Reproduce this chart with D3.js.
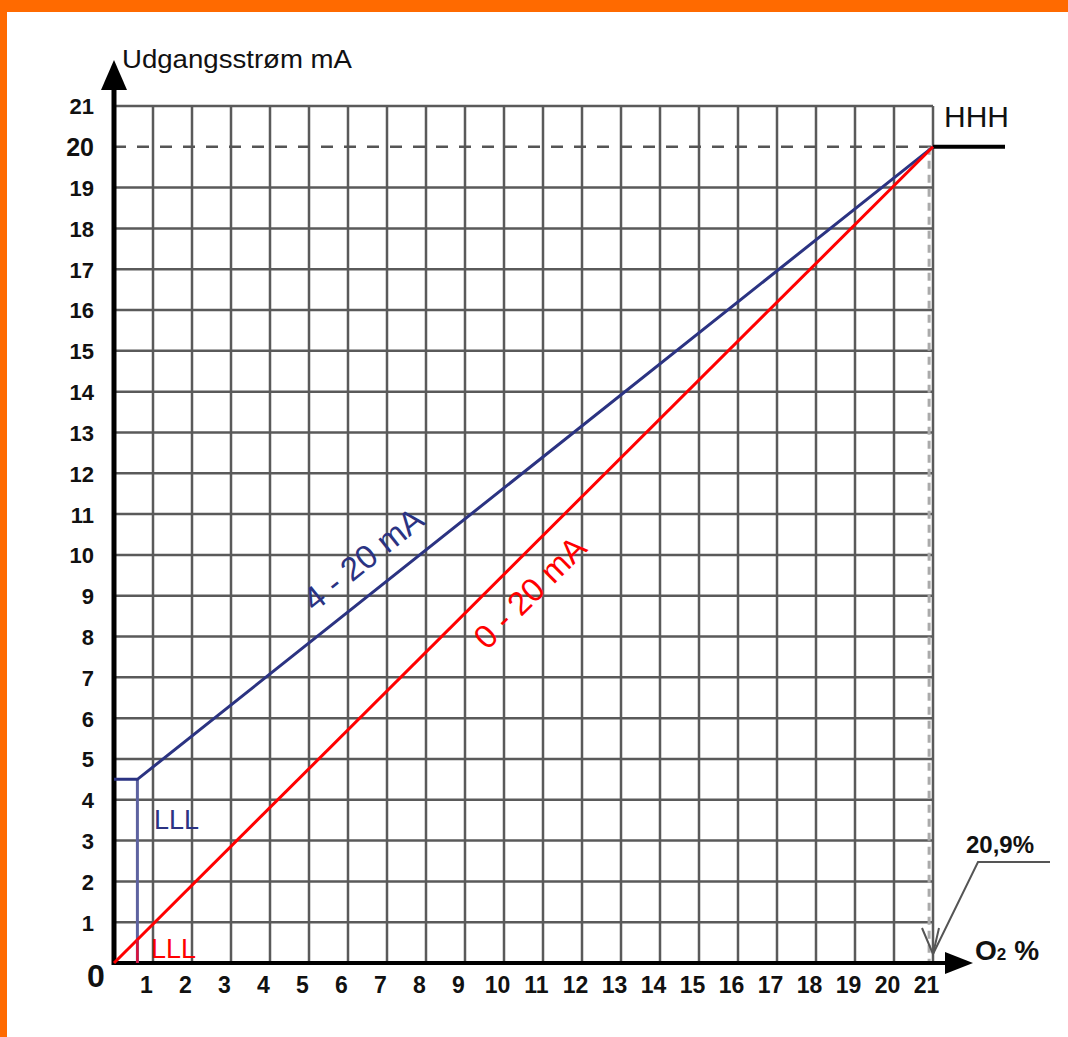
<!DOCTYPE html>
<html><head><meta charset="utf-8">
<script src="https://cdn.jsdelivr.net/npm/d3@7"></script>
<style>html,body{margin:0;padding:0;background:#fff;} svg{display:block;}</style>
</head><body>
<script>
// ---- data ----
const xTickValues = [1,2,3,4,5,6,7,8,9,10,11,12,13,14,15,16,17,18,19,20,21];
const yTickValues = [1,2,3,4,5,6,7,8,9,10,11,12,13,14,15,16,17,18,19,20,21];
const o2_4to20 = [0, 0.6, 21];
const mA_4to20 = [4.5, 4.5, 20];
const o2_0to20 = [0, 21];
const mA_0to20 = [0, 20];
const lllO2 = 0.6;
const fullScaleO2 = 20.9;
const hhhMA = 20;
const yTitle = "Udgangsstrøm mA";
const seriesLabels = ["4 - 20 mA", "0 - 20 mA"];
const markerLabels = ["LLL", "HHH", "20,9%"];

// ---- layout ----
const W = 1068, H = 1037;
const FONT = "'Liberation Sans', Arial, Helvetica, sans-serif";
const svg = d3.select("body").append("svg").attr("width", W).attr("height", H);
svg.append("rect").attr("width", W).attr("height", H).attr("fill", "#fff");
svg.append("rect").attr("x", 0).attr("y", 0).attr("width", W).attr("height", 12).attr("fill", "#ff6a00");
svg.append("rect").attr("x", 0).attr("y", 0).attr("width", 7).attr("height", H).attr("fill", "#ff6a00");

const x = d3.scaleLinear().domain([0, 21]).range([114, 933]);
const y = d3.scaleLinear().domain([0, 21]).range([963, 106]);

const gridColor = "#5a5a5a";
// vertical grid
svg.append("g").selectAll("line").data(xTickValues).join("line")
  .attr("x1", d => x(d)).attr("x2", d => x(d))
  .attr("y1", y(0)).attr("y2", y(21))
  .attr("stroke", gridColor).attr("stroke-width", 2.5);
// horizontal grid (20 is dashed)
svg.append("g").selectAll("line").data(yTickValues.filter(d => d !== hhhMA)).join("line")
  .attr("x1", x(0)).attr("x2", x(21))
  .attr("y1", d => y(d)).attr("y2", d => y(d))
  .attr("stroke", gridColor).attr("stroke-width", 2.5);
svg.append("line")
  .attr("x1", x(0)).attr("x2", x(21)).attr("y1", y(hhhMA)).attr("y2", y(hhhMA))
  .attr("stroke", "#555").attr("stroke-width", 2.5).attr("stroke-dasharray", "12,11");
// 20.9 dashed vertical
svg.append("line")
  .attr("x1", x(fullScaleO2)).attr("x2", x(fullScaleO2)).attr("y1", y(hhhMA)).attr("y2", y(0))
  .attr("stroke", "#aaa").attr("stroke-width", 3).attr("stroke-dasharray", "8,6");
// HHH line
svg.append("line")
  .attr("x1", x(21)).attr("x2", x(21) + 72).attr("y1", y(hhhMA)).attr("y2", y(hhhMA))
  .attr("stroke", "#000").attr("stroke-width", 4);

// axes lines + arrows
svg.append("line").attr("x1", x(0)).attr("x2", x(0)).attr("y1", y(0) + 2).attr("y2", 88)
  .attr("stroke", "#000").attr("stroke-width", 5);
svg.append("path").attr("d", `M${x(0)},60 L${x(0) - 13},90 L${x(0) + 13},90 Z`).attr("fill", "#000");
svg.append("line").attr("x1", x(0) - 2).attr("x2", 947).attr("y1", y(0)).attr("y2", y(0))
  .attr("stroke", "#000").attr("stroke-width", 4);
svg.append("path").attr("d", `M973,${y(0)} L945,${y(0) - 11} L945,${y(0) + 11} Z`).attr("fill", "#000");

// ---- series ----
const line = d3.line().x(d => x(d[0])).y(d => y(d[1]));
const blue = "#2b3382", red = "#ff0000";
// LLL vertical for 4-20
svg.append("line").attr("x1", x(lllO2)).attr("x2", x(lllO2)).attr("y1", y(mA_4to20[0])).attr("y2", y(0))
  .attr("stroke", "#5d62a0").attr("stroke-width", 3);
svg.append("path").datum(o2_4to20.map((v, i) => [v, mA_4to20[i]]))
  .attr("d", line).attr("fill", "none").attr("stroke", blue).attr("stroke-width", 3).attr("stroke-linejoin", "miter");
svg.append("path").datum(o2_0to20.map((v, i) => [v, mA_0to20[i]]))
  .attr("d", line).attr("fill", "none").attr("stroke", red).attr("stroke-width", 3);
// small red LLL tick
const redAtLLL = mA_0to20[0] + (mA_0to20[1] - mA_0to20[0]) * (lllO2 - o2_0to20[0]) / (o2_0to20[1] - o2_0to20[0]);
svg.append("line").attr("x1", x(lllO2)).attr("x2", x(lllO2)).attr("y1", y(redAtLLL)).attr("y2", y(0))
  .attr("stroke", "#e0103a").attr("stroke-width", 2.5);

// ---- axes labels ----
const xAxis = svg.append("g").attr("transform", `translate(0,${y(0)})`)
  .call(d3.axisBottom(x).tickValues(xTickValues).tickSize(0).tickFormat(d3.format("d")));
xAxis.select(".domain").remove();
xAxis.selectAll("text").attr("y", 30).attr("dy", 0).attr("dx", -7)
  .attr("font-family", FONT).attr("font-size", 23).attr("font-weight", "bold").attr("fill", "#111");

const yAxis = svg.append("g").attr("transform", `translate(${x(0)},0)`)
  .call(d3.axisLeft(y).tickValues(yTickValues).tickSize(0).tickPadding(20).tickFormat(d3.format("d")));
yAxis.select(".domain").remove();
yAxis.selectAll("text").attr("dy", "0.36em")
  .attr("font-family", FONT).attr("font-size", d => d === hhhMA ? 25 : 22).attr("font-weight", "bold").attr("fill", "#111");

svg.append("text").attr("x", 96).attr("y", 987).attr("text-anchor", "middle")
  .attr("font-family", FONT).attr("font-size", 32).attr("font-weight", "bold").attr("fill", "#111").text("0");

svg.append("text").attr("x", 122).attr("y", 68)
  .attr("font-family", FONT).attr("font-size", 25).attr("fill", "#111")
  .attr("textLength", 230).attr("lengthAdjust", "spacingAndGlyphs").text(yTitle);

// O2 %
const o2t = svg.append("text").attr("x", 975).attr("y", 960)
  .attr("font-family", FONT).attr("font-size", 28).attr("font-weight", "bold").attr("fill", "#111");
o2t.append("tspan").text("O");
o2t.append("tspan").attr("font-size", 17).text("2");
o2t.append("tspan").attr("dx", 8).text("%");

// HHH
svg.append("text").attr("x", 944).attr("y", 127)
  .attr("font-family", FONT).attr("font-size", 30).attr("fill", "#111").text(markerLabels[1]);

// 20,9% with leader
svg.append("text").attr("x", 966).attr("y", 853)
  .attr("font-family", FONT).attr("font-size", 24).attr("font-weight", "bold").attr("fill", "#111").text(markerLabels[2]);
const tipX = x(21), tipY = y(0) - 9;
svg.append("path")
  .attr("d", `M${tipX + 117},862 L${tipX + 45},862 L${tipX},${tipY}`)
  .attr("fill", "none").attr("stroke", "#555").attr("stroke-width", 2);
svg.append("path")
  .attr("d", `M${tipX - 11},${tipY - 26} L${tipX},${tipY} L${tipX + 6},${tipY - 26}`)
  .attr("fill", "none").attr("stroke", "#555").attr("stroke-width", 2);

// LLL labels
svg.append("text").attr("x", 154).attr("y", 829)
  .attr("font-family", FONT).attr("font-size", 27).attr("fill", blue).text(markerLabels[0]);
svg.append("text").attr("x", 151).attr("y", 958)
  .attr("font-family", FONT).attr("font-size", 27).attr("fill", red).text(markerLabels[0]);

// series labels along lines
function labelAlong(xs, ys, atX, offset, txt, color) {
  let i = 0;
  while (i < xs.length - 2 && atX > xs[i + 1]) i++;
  const t = (atX - xs[i]) / (xs[i + 1] - xs[i]);
  const yv = ys[i] + t * (ys[i + 1] - ys[i]);
  const px = x(atX), py = y(yv);
  const dx = x(xs[i + 1]) - x(xs[i]), dy = y(ys[i + 1]) - y(ys[i]);
  const L = Math.hypot(dx, dy);
  const ux = dx / L, uy = dy / L;
  const nx = uy, ny = -ux;
  const cx = px + nx * offset, cy = py + ny * offset;
  const ang = Math.atan2(dy, dx) * 180 / Math.PI;
  svg.append("text").attr("transform", `translate(${cx},${cy}) rotate(${ang})`)
    .attr("text-anchor", "middle").attr("dominant-baseline", "central")
    .attr("font-family", FONT).attr("font-size", 33).attr("fill", color).text(txt);
}
labelAlong(o2_4to20, mA_4to20, 6.9, 32, seriesLabels[0], blue);
labelAlong(o2_0to20, mA_0to20, 10.1, -31, seriesLabels[1], red);
</script>
</body></html>
